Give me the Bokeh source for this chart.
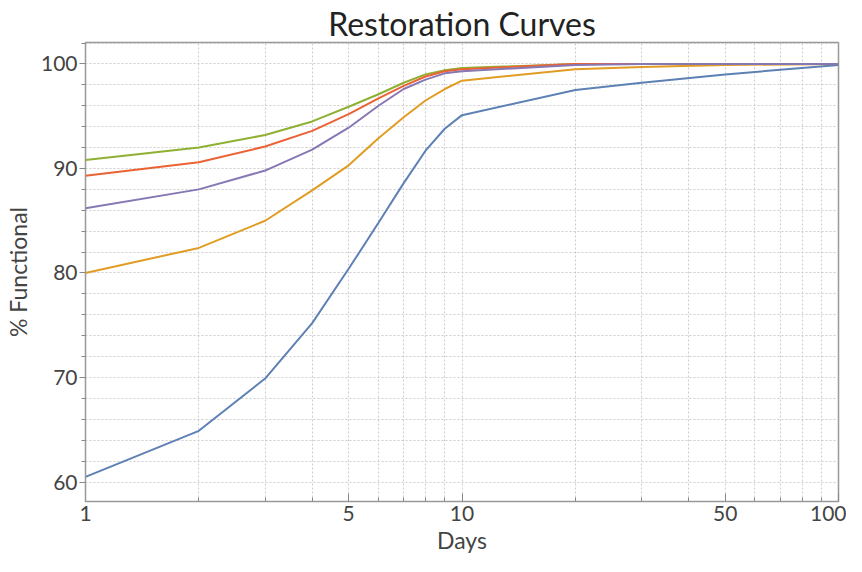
from bokeh.plotting import figure
from bokeh.models import Range1d, FixedTicker
from bokeh.embed import file_html
from bokeh.resources import INLINE

days = [1, 2, 3, 4, 5, 6, 7, 8, 9, 10, 20, 30, 50, 100]
blue = [60.5, 64.9, 69.9, 75.2, 80.4, 84.8, 88.6, 91.7, 93.8, 95.1, 97.5, 98.2, 99.0, 99.9]
orange = [80.0, 82.4, 85.0, 87.9, 90.3, 92.9, 94.9, 96.5, 97.6, 98.4, 99.5, 99.7, 99.9, 100.0]
green = [90.8, 92.0, 93.2, 94.5, 95.9, 97.1, 98.2, 99.0, 99.4, 99.6, 100.0, 100.0, 100.0, 100.0]
red = [89.3, 90.6, 92.1, 93.6, 95.2, 96.7, 97.9, 98.8, 99.3, 99.5, 100.0, 100.0, 100.0, 100.0]
purple = [86.2, 88.0, 89.8, 91.8, 93.9, 96.0, 97.6, 98.5, 99.1, 99.3, 99.9, 100.0, 100.0, 100.0]

series = [("blue", blue, "#5E81B5"), ("orange", orange, "#E19C24"),
          ("green", green, "#8FB032"), ("red", red, "#EB6235"),
          ("purple", purple, "#8778B3")]

x_major = [1, 5, 10, 50, 100]
x_minor = [2, 3, 4, 6, 7, 8, 9, 20, 30, 40, 60, 70, 80, 90]
y_major = [60, 70, 80, 90, 100]
y_minor = [58, 62, 64, 66, 68, 72, 74, 76, 78, 82, 84, 86, 88, 92, 94, 96, 98, 102]

FONT = "Lato"

p = figure(width=846, height=556, x_axis_type="log",
           x_range=Range1d(1, 100), y_range=Range1d(58.14, 102.05),
           output_backend="svg", toolbar_location=None,
           min_border_left=85, min_border_right=8, min_border_top=42, min_border_bottom=42,
           title="Restoration Curves")

p.title.align = "center"
p.title.text_font = FONT
p.title.text_font_size = "32px"
p.title.text_font_style = "normal"
p.title.text_color = "#222222"
p.title.standoff = 0
p.title.offset = 0

for name, ys, col in series:
    p.line(days, ys, line_color=col, line_width=2)

p.outline_line_color = "#999999"
p.outline_line_width = 1.5

xa = p.xaxis[0]
xa.ticker = FixedTicker(ticks=x_major, minor_ticks=x_minor)
xa.axis_label = "Days"
ya = p.yaxis[0]
ya.ticker = FixedTicker(ticks=y_major, minor_ticks=y_minor)
ya.axis_label = "% Functional"

for ax in (xa, ya):
    ax.axis_line_color = "#999999"
    ax.major_tick_line_color = "#888888"
    ax.minor_tick_line_color = "#888888"
    ax.major_label_text_font = FONT
    ax.major_label_text_font_size = "21px"
    ax.major_label_text_color = "#444444"
    ax.axis_label_text_font = FONT
    ax.axis_label_text_font_size = "23px"
    ax.axis_label_text_font_style = "normal"
    ax.axis_label_text_color = "#444444"

xa.major_tick_in = 8
xa.major_tick_out = 0
xa.minor_tick_in = 4
xa.minor_tick_out = 0
xa.major_label_standoff = 4
xa.axis_label_standoff = 2

ya.major_tick_in = 0
ya.major_tick_out = 6
ya.minor_tick_in = 0
ya.minor_tick_out = 4
ya.major_label_standoff = 2
ya.axis_label_standoff = 6

for g in (p.xgrid[0], p.ygrid[0]):
    g.grid_line_color = "#cccccc"
    g.grid_line_dash = "2 2"
    g.minor_grid_line_color = "#cccccc"
    g.minor_grid_line_dash = "2 2"
p.ygrid[0].ticker = FixedTicker(ticks=y_major, minor_ticks=y_minor)
p.xgrid[0].ticker = FixedTicker(ticks=x_major, minor_ticks=x_minor)

open("out.html", "w").write(file_html(p, INLINE))
